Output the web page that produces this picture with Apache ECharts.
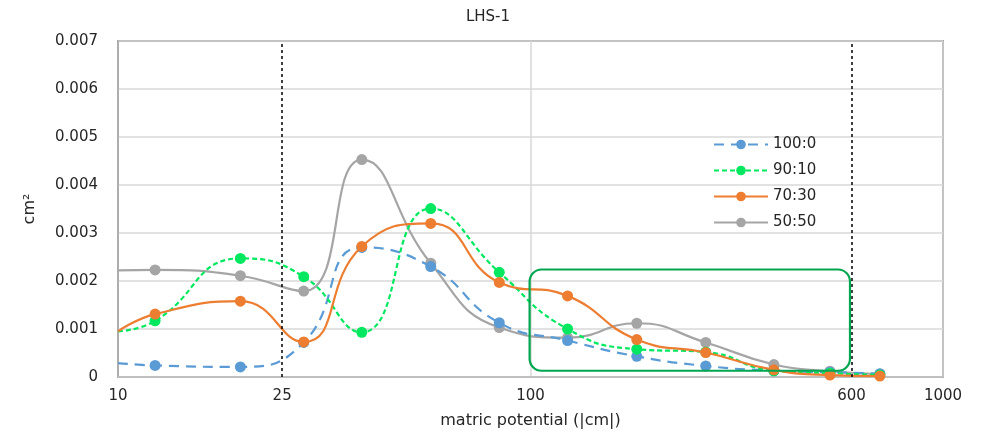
<!DOCTYPE html>
<html lang="en">
<head>
    <meta charset="UTF-8" />
    <title>LHS-1</title>
    <script src="https://cdn.jsdelivr.net/npm/echarts@6/dist/echarts.min.js"></script>
    <style>
        html, body { margin: 0; padding: 0; background: #fff; }
    </style>
</head>
<body>
    <div id="main" style="width: 985px; height: 434px"></div>
    <script>
        // matric potential |cm| (first point sits on the axis start, no marker)
        var potential = [10, 12.3, 19.8, 28.2, 39, 57.3, 84, 123, 181, 266, 389, 532, 703];
        var s100_0 = [0.00029, 0.00024, 0.00021, 0.00072, 0.0027, 0.0023, 0.00113, 0.00076, 0.00043, 0.00023, 0.00013, 0.0001, 0.00007];
        var s90_10 = [0.00095, 0.00117, 0.00247, 0.00209, 0.00093, 0.00351, 0.00218, 0.001, 0.00058, 0.00052, 0.00013, 0.00008, 0.00004];
        var s70_30 = [0.00095, 0.00131, 0.00158, 0.00073, 0.00272, 0.0032, 0.00197, 0.00169, 0.00078, 0.00051, 0.00015, 0.00004, 0.00002];
        var s50_50 = [0.00222, 0.00223, 0.00211, 0.00179, 0.00453, 0.00237, 0.00103, 0.00082, 0.00112, 0.00072, 0.00026, 0.00012, 0.00006];
        var seriesNames = ["100:0", "90:10", "70:30", "50:50"];
        var xLabels = [10, 25, 100, 600, 1000];
        var refLines = [25, 600];
        // highlighted region (data coords)
        var boxX = [99.5, 595];
        var boxY = [0.00013, 0.00224];

        var chart = echarts.init(document.getElementById("main"));
        var font = "DejaVu Sans";
        var textColor = "#262626";

        function pts(ys) {
            return potential.map(function (x, i) {
                var p = { value: [x, ys[i]] };
                if (i === 0) p.symbol = "none";
                return p;
            });
        }

        function line(name, ys, color, type, z) {
            return {
                name: name,
                type: "line",
                data: pts(ys),
                smooth: 0.5,
                symbol: "circle",
                symbolSize: 11,
                z: z,
                itemStyle: { color: color },
                lineStyle: { color: color, width: 2.2, type: type },
            };
        }

        var series = [
            line(seriesNames[0], s100_0, "#5b9bd5", [10, 7], 2),
            line(seriesNames[1], s90_10, "#00e85f", [5, 3], 3),
            line(seriesNames[2], s70_30, "#ed7d31", "solid", 4),
            line(seriesNames[3], s50_50, "#a5a5a5", "solid", 1),
        ];
        series[0].markLine = {
            silent: true,
            symbol: "none",
            label: { show: false },
            lineStyle: { color: "#000", type: [3, 3], width: 1.5 },
            data: refLines.map(function (v) { return { xAxis: v }; }),
        };

        var option = {
            animation: false,
            title: {
                text: "LHS-1",
                left: 483,
                top: 5,
                textAlign: "center",
                textStyle: { fontFamily: font, fontSize: 15, fontWeight: "normal", color: textColor },
            },
            grid: {
                left: 118, right: 42, top: 41, bottom: 56,
                show: true, borderColor: "#595959", borderWidth: 1.5,
            },
            legend: {
                orient: "vertical",
                left: 708,
                top: 132,
                itemWidth: 54,
                itemHeight: 12,
                itemGap: 11,
                textStyle: { fontFamily: font, fontSize: 15, color: textColor },
                data: seriesNames,
            },
            xAxis: {
                type: "log",
                logBase: 10,
                min: 10,
                max: 1000,
                name: "matric potential (|cm|)",
                nameLocation: "middle",
                nameGap: 36,
                nameTextStyle: { fontFamily: font, fontSize: 16, color: textColor },
                axisLine: { lineStyle: { color: "#bfbfbf", width: 1.5 } },
                axisTick: { show: false },
                axisLabel: {
                    customValues: xLabels,
                    formatter: function (v) { return String(Math.round(v)); },
                    fontFamily: font, fontSize: 15, color: textColor, margin: 12,
                },
                splitLine: { show: true, lineStyle: { color: "#d9d9d9", width: 1.5 } },
            },
            yAxis: {
                type: "value",
                min: 0,
                max: 0.007,
                interval: 0.001,
                name: "cm²",
                nameLocation: "middle",
                nameGap: 80,
                nameTextStyle: { fontFamily: font, fontSize: 16, color: textColor },
                axisLine: { show: true, lineStyle: { color: "#a6a6a6", width: 1.5 } },
                axisTick: { show: false },
                axisLabel: {
                    fontFamily: font, fontSize: 15, color: textColor, margin: 20,
                    formatter: function (v) { return v === 0 ? "0" : v.toFixed(3); },
                },
                splitLine: { lineStyle: { color: "#d9d9d9", width: 1.5 } },
            },
            series: series,
        };
        chart.setOption(option);

        // rounded highlight box placed from data coordinates
        var p0 = chart.convertToPixel({ gridIndex: 0 }, [boxX[0], boxY[1]]);
        var p1 = chart.convertToPixel({ gridIndex: 0 }, [boxX[1], boxY[0]]);
        chart.setOption({
            graphic: [{
                type: "rect",
                z: 100,
                shape: { x: p0[0], y: p0[1], width: p1[0] - p0[0], height: p1[1] - p0[1], r: 12 },
                style: { fill: "none", stroke: "#00a650", lineWidth: 2.2 },
            }],
        });
    </script>
</body>
</html>
